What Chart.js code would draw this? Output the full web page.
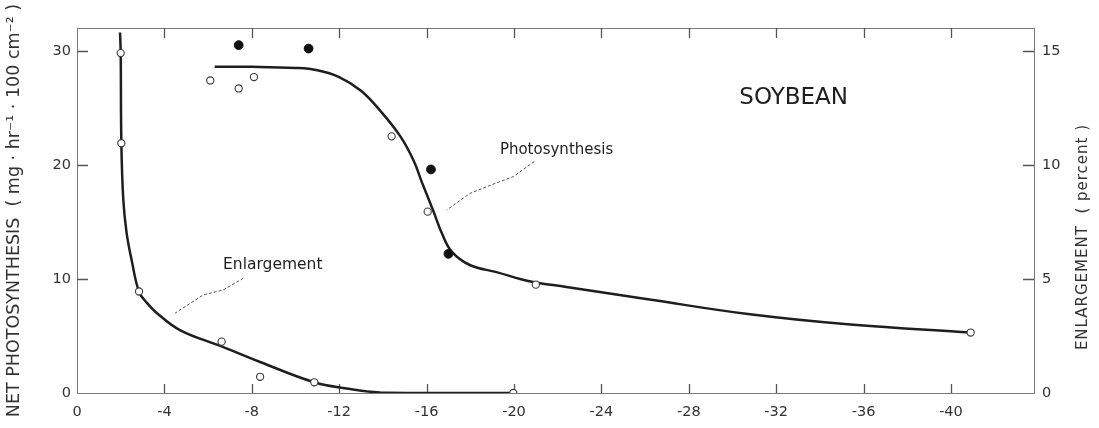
<!DOCTYPE html>
<html>
<head>
<meta charset="utf-8">
<script src="https://cdn.jsdelivr.net/npm/chart.js@4.4.1/dist/chart.umd.min.js"></script>
<style>
  html, body { margin: 0; padding: 0; background: #ffffff; }
  #wrap { width: 1099px; height: 428px; }
</style>
</head>
<body>
<div id="wrap"><canvas id="c" width="1099" height="428"></canvas></div>
<script>
// ---- tick labels ----
const xTickValues = [0, -4, -8, -12, -16, -20, -24, -28, -32, -36, -40];
const leftTickValues = [0, 10, 20, 30];
const rightTickValues = [0, 5, 10, 15];

// ---- Net photosynthesis (mg hr-1 100 cm-2), x = leaf water potential ----
const photoOpenX = [-6.1, -7.4, -8.1, -14.4, -16.05, -21.0, -40.9];
const photoOpenY = [27.4, 26.7, 27.7, 22.5, 15.9, 9.5, 5.3];
const photoFilledX = [-7.4, -10.6, -16.2, -17.0];
const photoFilledY = [30.5, 30.2, 19.6, 12.2];
// fitted curve
const photoCurveX = [-6.3, -8, -10, -11, -12, -13, -13.9, -14.8, -15.4, -15.8, -16.3, -16.7, -17.15, -18.0, -19.2, -20.7, -22.4, -26.2, -30.8, -35.4, -40.9];
const photoCurveY = [28.6, 28.6, 28.5, 28.3, 27.7, 26.5, 24.7, 22.5, 20.4, 18.4, 16.0, 14.0, 12.4, 11.2, 10.6, 9.8, 9.3, 8.2, 6.9, 6.0, 5.3];

// ---- Enlargement (percent) ----
const enlOpenX = [-2.0, -2.03, -2.84, -6.62, -8.38, -10.86, -19.97];
const enlOpenY = [14.9, 10.95, 4.45, 2.25, 0.71, 0.47, 0.0];
const enlCurveX = [-1.97, -2.0, -2.03, -2.12, -2.27, -2.5, -2.84, -3.2, -3.65, -4.71, -6.62, -8.38, -10.86, -12.34, -13.87, -16.0, -19.97];
const enlCurveY = [15.8, 14.9, 10.95, 8.46, 7.02, 5.83, 4.44, 3.95, 3.51, 2.76, 2.04, 1.36, 0.47, 0.2, 0.02, 0.0, 0.0];

const pts = (xs, ys) => xs.map((x, i) => ({ x: x, y: ys[i] }));

const INK = '#1e1e1e';
const AXIS = '#7a7a7a';
const FONT = "'DejaVu Sans', 'Liberation Sans', sans-serif";

const decorPlugin = {
  id: 'decor',
  beforeDatasetsDraw(chart) {
    const { ctx, chartArea: a, scales } = chart;
    ctx.save();
    // top frame line
    ctx.strokeStyle = AXIS;
    ctx.lineWidth = 1;
    ctx.beginPath();
    ctx.moveTo(a.left, a.top + 0.5);
    ctx.lineTo(a.right, a.top + 0.5);
    ctx.stroke();
    // inward ticks
    ctx.strokeStyle = '#555';
    ctx.lineWidth = 1.3;
    ctx.beginPath();
    xTickValues.forEach(v => {
      if (v === 0) return;
      const px = Math.round(scales.x.getPixelForValue(v)) + 0.5;
      ctx.moveTo(px, a.bottom); ctx.lineTo(px, a.bottom - 9);
      ctx.moveTo(px, a.top); ctx.lineTo(px, a.top + 10);
    });
    leftTickValues.forEach(v => {
      if (v === 0) return;
      const py = Math.round(scales.y.getPixelForValue(v)) + 0.5;
      ctx.moveTo(a.left, py); ctx.lineTo(a.left + 11, py);
    });
    rightTickValues.forEach(v => {
      if (v === 0) return;
      const py = Math.round(scales.y2.getPixelForValue(v)) + 0.5;
      ctx.moveTo(a.right, py); ctx.lineTo(a.right - 11, py);
    });
    ctx.stroke();

    // leader lines (dashed)
    ctx.strokeStyle = '#555';
    ctx.lineWidth = 1;
    ctx.setLineDash([3, 2]);
    const leader = (arr, ys) => {
      ctx.beginPath();
      arr.forEach((p, i) => {
        const px = scales.x.getPixelForValue(p[0]);
        const py = ys.getPixelForValue(p[1]);
        if (i === 0) ctx.moveTo(px, py); else ctx.lineTo(px, py);
      });
      ctx.stroke();
    };
    leader([[-20.93, 20.29], [-19.97, 18.97], [-18.9, 18.2], [-17.99, 17.5], [-16.92, 16.05]], scales.y);
    leader([[-7.61, 5.03], [-6.7, 4.52], [-5.78, 4.3], [-4.49, 3.5]], scales.y2);
    ctx.setLineDash([]);
    ctx.restore();
  },
  afterDraw(chart) {
    const { ctx, scales } = chart;
    ctx.save();
    ctx.fillStyle = INK;
    ctx.textAlign = 'center';
    ctx.textBaseline = 'middle';
    const label = (txt, x, y, axis, font) => {
      ctx.font = font;
      ctx.fillText(txt, scales.x.getPixelForValue(x), axis.getPixelForValue(y));
    };
    label('SOYBEAN', -32.8, 25.9, scales.y, "23px " + FONT);
    label('Photosynthesis', -21.95, 21.3, scales.y, "15px " + FONT);
    label('Enlargement', -8.96, 11.2, scales.y, "15.5px " + FONT);

    // right axis title, reading bottom-to-top
    ctx.translate(1083, 237);
    ctx.rotate(-Math.PI / 2);
    ctx.font = "15px " + FONT;
    ctx.letterSpacing = '1px';
    ctx.fillStyle = '#333';
    ctx.fillText('ENLARGEMENT  ( percent )', 0, 0);
    ctx.restore();
  }
};

new Chart(document.getElementById('c'), {
  data: {
    datasets: [
      {
        type: 'line', label: 'Photosynthesis curve', data: pts(photoCurveX, photoCurveY),
        yAxisID: 'y', borderColor: INK, borderWidth: 2.5, pointRadius: 0,
        tension: 0.4, fill: false, order: 3
      },
      {
        type: 'line', label: 'Enlargement curve', data: pts(enlCurveX, enlCurveY),
        yAxisID: 'y2', borderColor: INK, borderWidth: 2.5, pointRadius: 0,
        tension: 0.4, fill: false, order: 3
      },
      {
        type: 'scatter', label: 'Photosynthesis (open)', data: pts(photoOpenX, photoOpenY),
        yAxisID: 'y', pointRadius: 3.6, pointBorderWidth: 1.1, pointBorderColor: '#3a3a3a',
        pointBackgroundColor: '#ffffff', order: 1
      },
      {
        type: 'scatter', label: 'Photosynthesis (filled)', data: pts(photoFilledX, photoFilledY),
        yAxisID: 'y', pointRadius: 4.4, pointBorderWidth: 1, pointBorderColor: '#111',
        pointBackgroundColor: '#111', order: 1
      },
      {
        type: 'scatter', label: 'Enlargement', data: pts(enlOpenX, enlOpenY),
        yAxisID: 'y2', pointRadius: 3.6, pointBorderWidth: 1.1, pointBorderColor: '#3a3a3a',
        pointBackgroundColor: '#ffffff', order: 1
      }
    ]
  },
  options: {
    responsive: false,
    animation: false,
    layout: { padding: { top: 28, left: 0, right: 0, bottom: 0 } },
    plugins: { legend: { display: false }, tooltip: { enabled: false } },
    scales: {
      x: {
        type: 'linear', position: 'bottom', min: -43.8, max: 0, reverse: true,
        grid: { display: false, drawTicks: false },
        border: { display: true, color: AXIS, width: 1 },
        afterBuildTicks: s => { s.ticks = xTickValues.map(v => ({ value: v })); },
        afterFit: s => { s.height = 35; },
        ticks: {
          padding: 11, color: '#333', font: { family: FONT, size: 14.5 },
          maxRotation: 0, autoSkip: false,
          callback: v => String(v)
        }
      },
      y: {
        type: 'linear', position: 'left', min: 0, max: 32,
        grid: { display: false, drawTicks: false },
        border: { display: true, color: AXIS, width: 1 },
        afterBuildTicks: s => { s.ticks = leftTickValues.map(v => ({ value: v })); },
        afterFit: s => { s.width = 77; },
        ticks: { padding: 6, color: '#333', font: { family: FONT, size: 14.5 } },
        title: {
          display: true, text: 'NET PHOTOSYNTHESIS  ( mg · hr⁻¹ · 100 cm⁻² )',
          color: '#333', font: { family: FONT, size: 17.5 }, padding: { top: 4, bottom: 0 }
        }
      },
      y2: {
        type: 'linear', position: 'right', min: 0, max: 16,
        grid: { display: false, drawTicks: false },
        border: { display: true, color: AXIS, width: 1 },
        afterBuildTicks: s => { s.ticks = rightTickValues.map(v => ({ value: v })); },
        afterFit: s => { s.width = 65; },
        ticks: { padding: 8, color: '#333', font: { family: FONT, size: 14.5 } }
      }
    }
  },
  plugins: [decorPlugin]
});
</script>
</body>
</html>
